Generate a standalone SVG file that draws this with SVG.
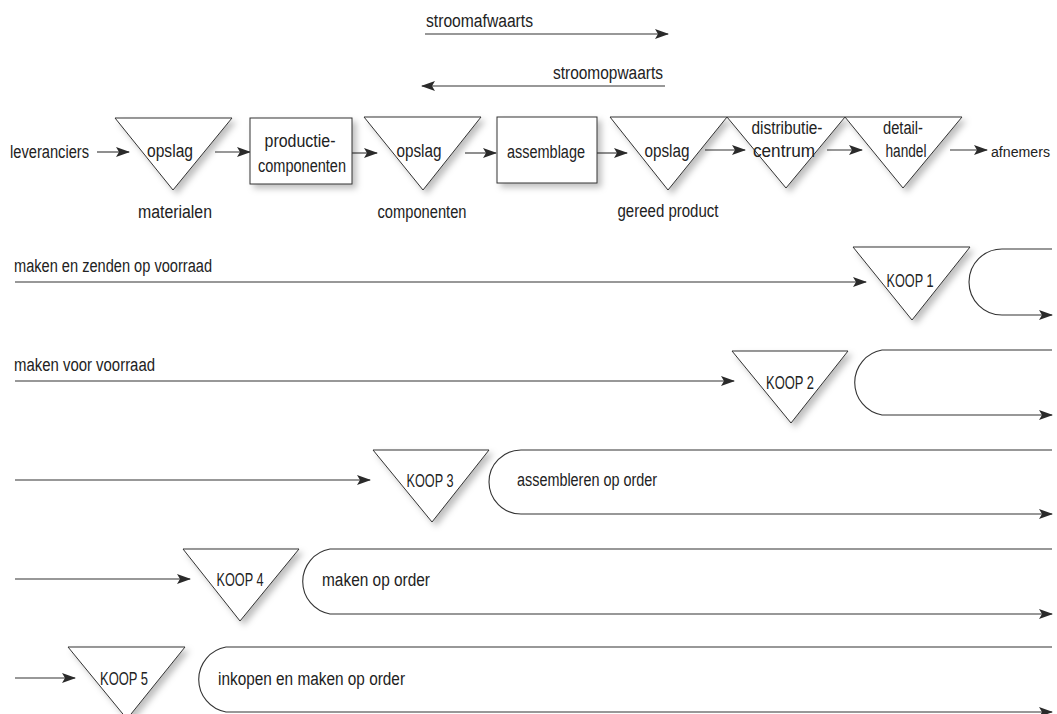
<svg xmlns="http://www.w3.org/2000/svg" width="1057" height="714" viewBox="0 0 1057 714">
<defs>
<marker id="ah" markerWidth="14" markerHeight="10" refX="13" refY="5" orient="auto" markerUnits="userSpaceOnUse">
<path d="M0,0 L14,5 L0,10 L3,5 Z" fill="#2a2a2a"/>
</marker>
<filter id="sh" x="-20%" y="-20%" width="150%" height="150%">
<feDropShadow dx="4" dy="4" stdDeviation="3" flood-color="#000" flood-opacity="0.25"/>
</filter>
<style>
text{font-family:"Liberation Sans",Arial,sans-serif;font-size:18px;fill:#222}
.c{text-anchor:middle}
.e{text-anchor:end}
.shape{fill:#fff;stroke:#333;stroke-width:1;filter:url(#sh)}
.ar{fill:none;stroke:#333;stroke-width:1.1;marker-end:url(#ah)}
</style>
</defs>
<rect width="1057" height="714" fill="#fff"/>

<g id="connectors">
<path class="ar" d="M425,34 H668"/>
<path class="ar" d="M665,86 H422"/>
<path class="ar" d="M97,152 H129"/>
<path class="ar" d="M215,152 H250"/>
<path class="ar" d="M352,153 H377"/>
<path class="ar" d="M465,153 H496"/>
<path class="ar" d="M597,153 H627"/>
<path class="ar" d="M705,150 H745"/>
<path class="ar" d="M827,150 H862"/>
<path class="ar" d="M950,150 H987"/>
<path class="ar" d="M15,282 H866"/>
<path class="ar" d="M15,381 H734"/>
<path class="ar" d="M15,480 H370"/>
<path class="ar" d="M15,579 H190"/>
<path class="ar" d="M15,678 H75"/>
<path class="ar" d="M1052,249 H1002 A33,33 0 0 0 1002,315 H1052"/>
<path class="ar" d="M1052,350 H882 A33,33 0 0 0 882,415 H1052"/>
<path class="ar" d="M1052,450 H521 A32,32 0 0 0 521,514 H1052"/>
<path class="ar" d="M1052,549 H330 A33,33 0 0 0 330,614 H1052"/>
<path class="ar" d="M1052,647 H226 A33,33 0 0 0 226,712 H1052"/>
</g>

<g id="labels-top">
<text x="426" y="27" textLength="107" lengthAdjust="spacingAndGlyphs">stroomafwaarts</text>
<text x="553" y="79" textLength="110" lengthAdjust="spacingAndGlyphs">stroomopwaarts</text>
</g>

<g id="leveranciers"><text x="10" y="158" textLength="79" lengthAdjust="spacingAndGlyphs">leveranciers</text></g>

<g id="opslag-materialen">
<polygon class="shape" points="115,118 232,118 173,190"/>
<text x="170" y="157" class="c" textLength="46" lengthAdjust="spacingAndGlyphs">opslag</text>
<text x="175" y="218" class="c" textLength="74" lengthAdjust="spacingAndGlyphs">materialen</text>
</g>

<g id="productiecomponenten">
<rect class="shape" x="250" y="118" width="102" height="66"/>
<text x="300" y="147" class="c" textLength="71" lengthAdjust="spacingAndGlyphs">productie-</text>
<text x="302" y="172" class="c" textLength="88" lengthAdjust="spacingAndGlyphs">componenten</text>
</g>

<g id="opslag-componenten">
<polygon class="shape" points="364,117 481,117 423,190"/>
<text x="419" y="157" class="c" textLength="45" lengthAdjust="spacingAndGlyphs">opslag</text>
<text x="422" y="218" class="c" textLength="89" lengthAdjust="spacingAndGlyphs">componenten</text>
</g>

<g id="assemblage">
<rect class="shape" x="497" y="117" width="100" height="66"/>
<text x="546" y="158" class="c" textLength="78" lengthAdjust="spacingAndGlyphs">assemblage</text>
</g>

<g id="opslag-gereed">
<polygon class="shape" points="610,117 727,117 668,190"/>
<text x="667" y="157" class="c" textLength="45" lengthAdjust="spacingAndGlyphs">opslag</text>
<text x="668" y="217" class="c" textLength="101" lengthAdjust="spacingAndGlyphs">gereed product</text>
</g>

<g id="distributiecentrum">
<polygon class="shape" points="727,117 845,117 786,188"/>
<text x="787" y="134" class="c" textLength="71" lengthAdjust="spacingAndGlyphs">distributie-</text>
<text x="784" y="157" class="c" textLength="62" lengthAdjust="spacingAndGlyphs">centrum</text>
</g>

<g id="detailhandel">
<polygon class="shape" points="845,117 962,117 903,188"/>
<text x="903" y="134" class="c" textLength="40" lengthAdjust="spacingAndGlyphs">detail-</text>
<text x="906" y="157" class="c" textLength="41" lengthAdjust="spacingAndGlyphs">handel</text>
</g>

<g id="afnemers"><text x="991" y="157" style="font-size:15.5px" textLength="59" lengthAdjust="spacingAndGlyphs">afnemers</text></g>

<g id="koop1">
<text x="14" y="272" textLength="198" lengthAdjust="spacingAndGlyphs">maken en zenden op voorraad</text>
<polygon class="shape" points="853,247 970,247 912,320"/>
<text x="910" y="287" class="c" textLength="47" lengthAdjust="spacingAndGlyphs">KOOP 1</text>
</g>

<g id="koop2">
<text x="14" y="371" textLength="141" lengthAdjust="spacingAndGlyphs">maken voor voorraad</text>
<polygon class="shape" points="732,351 848,351 791,423"/>
<text x="790" y="389" class="c" textLength="48" lengthAdjust="spacingAndGlyphs">KOOP 2</text>
</g>

<g id="koop3">
<polygon class="shape" points="373,450 489,450 432,522"/>
<text x="430" y="487" class="c" textLength="47" lengthAdjust="spacingAndGlyphs">KOOP 3</text>
<text x="517" y="486" textLength="140" lengthAdjust="spacingAndGlyphs">assembleren op order</text>
</g>

<g id="koop4">
<polygon class="shape" points="183,549 299,549 240,621"/>
<text x="240" y="586" class="c" textLength="47" lengthAdjust="spacingAndGlyphs">KOOP 4</text>
<text x="322" y="586" textLength="108" lengthAdjust="spacingAndGlyphs">maken op order</text>
</g>

<g id="koop5">
<polygon class="shape" points="68,647 185,647 127,719"/>
<text x="124" y="685" class="c" textLength="48" lengthAdjust="spacingAndGlyphs">KOOP 5</text>
<text x="218" y="685" textLength="187" lengthAdjust="spacingAndGlyphs">inkopen en maken op order</text>
</g>
</svg>
